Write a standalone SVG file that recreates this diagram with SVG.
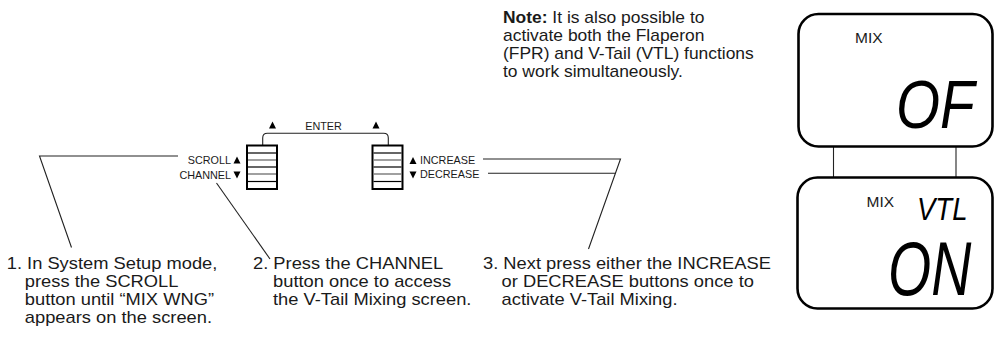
<svg xmlns="http://www.w3.org/2000/svg" width="997" height="347" viewBox="0 0 997 347">
<style>
.t{font-family:"Liberation Sans",Arial,sans-serif;fill:#1a1a1a}
.body{font-size:16px}
.small{font-size:10.8px}
.lcd{fill:none;stroke:#000;stroke-width:2.6}
.ln{fill:none;stroke:#222;stroke-width:1.1}
.btn{fill:#fff;stroke:#000;stroke-width:2}
.bl{stroke:#000;stroke-width:1.2}
.gl{stroke:#777;stroke-width:1.4}
.seg{font-family:"Liberation Sans",Arial,sans-serif;font-style:italic;fill:#000}
</style>
<g id="connectors">
<polyline class="ln" points="178,156 39.5,156 71.5,247.5"/>
<line class="ln" x1="216.5" y1="183" x2="270" y2="259"/>
<polyline class="ln" points="483,159 620.5,159 588.5,249"/>
<line class="ln" x1="488" y1="173.3" x2="615.4" y2="173.3"/>
<path class="ln" d="M262.7,145 V138 Q262.7,133.3 267.4,133.3 H383.6 Q388.3,133.3 388.3,138 V145"/>
<line class="ln" x1="833.5" y1="147" x2="833.5" y2="177"/>
<line class="ln" x1="956" y1="147" x2="956" y2="177"/>
</g>
<g id="btn-scroll">
<rect class="btn" x="247" y="145.5" width="30" height="43.5"/>
<line class="bl" x1="248" y1="153" x2="276" y2="153"/>
<line class="gl" x1="248" y1="160" x2="276" y2="160"/>
<line class="bl" x1="248" y1="167" x2="276" y2="167"/>
<line class="gl" x1="248" y1="174" x2="276" y2="174"/>
<line class="bl" x1="248" y1="181.5" x2="276" y2="181.5"/>
</g>
<g id="btn-increase">
<rect class="btn" x="372.5" y="145.5" width="30" height="43.5"/>
<line class="bl" x1="373.5" y1="153" x2="401.5" y2="153"/>
<line class="gl" x1="373.5" y1="160" x2="401.5" y2="160"/>
<line class="bl" x1="373.5" y1="167" x2="401.5" y2="167"/>
<line class="gl" x1="373.5" y1="174" x2="401.5" y2="174"/>
<line class="bl" x1="373.5" y1="181.5" x2="401.5" y2="181.5"/>
</g>
<g id="labels">
<text class="t small" x="231" y="164" text-anchor="end">SCROLL</text>
<text class="t small" x="231" y="178.5" text-anchor="end">CHANNEL</text>
<polygon points="233.5,163.5 240.5,163.5 237,156.5" fill="#000"/>
<polygon points="233.5,171.5 240.5,171.5 237,178.5" fill="#000"/>
<polygon points="409.5,164 416.5,164 413,157" fill="#000"/>
<polygon points="409.5,171.5 416.5,171.5 413,178.5" fill="#000"/>
<text class="t small" x="420" y="164">INCREASE</text>
<text class="t small" x="420" y="178">DECREASE</text>
<text class="t small" x="323.5" y="129.5" text-anchor="middle">ENTER</text>
<polygon points="269,128.5 276,128.5 272.5,121.5" fill="#000"/>
<polygon points="372.5,128.5 379.5,128.5 376,121.5" fill="#000"/>
</g>
<g id="step1" transform="matrix(1.145,0,0,1,6.7,0)">
<text class="t body" x="0" y="269">1. In System Setup mode,</text>
<text class="t body" x="15.8" y="287">press the SCROLL</text>
<text class="t body" x="15.8" y="305">button until “MIX WNG”</text>
<text class="t body" x="15.8" y="323">appears on the screen.</text>
</g>
<g id="step2" transform="matrix(1.145,0,0,1,253,0)">
<text class="t body" x="0" y="269">2. Press the CHANNEL</text>
<text class="t body" x="17.5" y="287">button once to access</text>
<text class="t body" x="17.5" y="305">the V-Tail Mixing screen.</text>
</g>
<g id="step3" transform="matrix(1.145,0,0,1,483,0)">
<text class="t body" x="0" y="269">3. Next press either the INCREASE</text>
<text class="t body" x="16.2" y="287">or DECREASE buttons once to</text>
<text class="t body" x="16.2" y="305">activate V-Tail Mixing.</text>
</g>
<g id="note" transform="matrix(1.09,0,0,1,503,0)">
<text class="t body" x="0" y="23"><tspan font-weight="bold">Note:</tspan> It is also possible to</text>
<text class="t body" x="0" y="41">activate both the Flaperon</text>
<text class="t body" x="0" y="59">(FPR) and V-Tail (VTL) functions</text>
<text class="t body" x="0" y="77">to work simultaneously.</text>
</g>
<g id="lcd-off">
<rect class="lcd" x="798.5" y="14" width="194" height="132.5" rx="20"/>
<text class="t" x="855" y="42.7" font-size="15.5">MIX</text>
<text class="seg" font-size="69" transform="translate(896,128) scale(0.82,1)">OF</text>
</g>
<g id="lcd-on">
<rect class="lcd" x="797.5" y="177.5" width="195" height="131" rx="20"/>
<text class="t" x="866.5" y="206.5" font-size="15.5">MIX</text>
<text class="seg" font-size="32" transform="translate(917,220) scale(0.86,1)">VTL</text>
<text class="seg" font-size="76" transform="translate(888,295) scale(0.73,1)">ON</text>
</g>
</svg>
